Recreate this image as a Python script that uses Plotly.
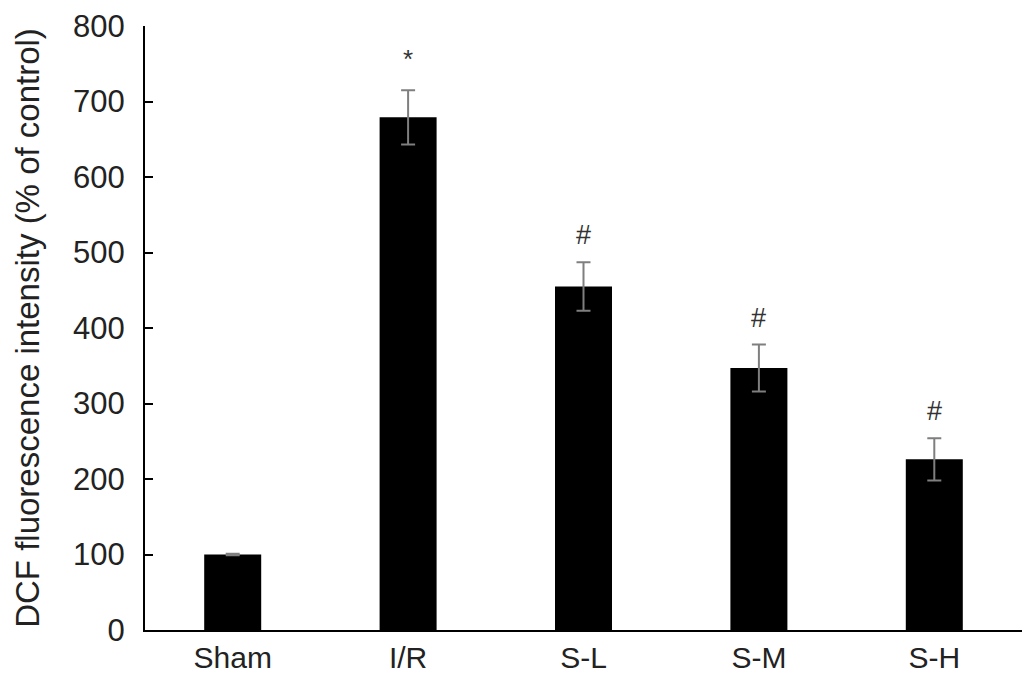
import plotly.graph_objects as go

categories = ["Sham", "I/R", "S-L", "S-M", "S-H"]
means = [100, 679, 455, 347, 226]
errors = [1, 36, 32, 31, 28]
sig_marks = ["", "*", "#", "#", "#"]

fig = go.Figure()
fig.add_trace(go.Bar(
    x=categories, y=means,
    marker=dict(color="black", line=dict(width=0)),
    error_y=dict(type="data", array=errors, visible=True,
                 color="#7f7f7f", thickness=2, width=7),
    showlegend=False,
))

for c, m, e, s in zip(categories, means, errors, sig_marks):
    if s:
        fig.add_annotation(
            x=c, y=m + e, text=s, showarrow=False,
            yanchor="bottom", yshift=10 if s == "#" else 14,
            font=dict(family="Liberation Sans, Arial", size=27 if s == "#" else 26, color="#333333"),
        )

fig.update_layout(
    width=1018, height=670,
    margin=dict(l=137, r=4, t=18, b=48, autoexpand=False),
    paper_bgcolor="white", plot_bgcolor="white",
    bargap=0.675,
    font=dict(family="Liberation Sans, Arial", color="#222222"),
)
fig.update_xaxes(
    automargin=False,
    showline=True, linecolor="black", linewidth=2,
    ticks="", showgrid=False, zeroline=False,
    tickfont=dict(size=30, color="#222222"),
    ticklabelstandoff=0,
)
fig.update_yaxes(
    automargin=False,
    range=[0, 800], dtick=100,
    showline=True, linecolor="black", linewidth=2,
    ticks="inside", ticklen=8, tickwidth=2, tickcolor="black",
    showgrid=False, zeroline=False,
    tickfont=dict(size=31, color="#222222"),
    ticklabelstandoff=12,
    ticklabeloverflow="allow",
    title=dict(text="DCF fluorescence intensity (% of control)",
               font=dict(size=33, color="#222222"), standoff=24),
)

fig.write_html("out.html")
